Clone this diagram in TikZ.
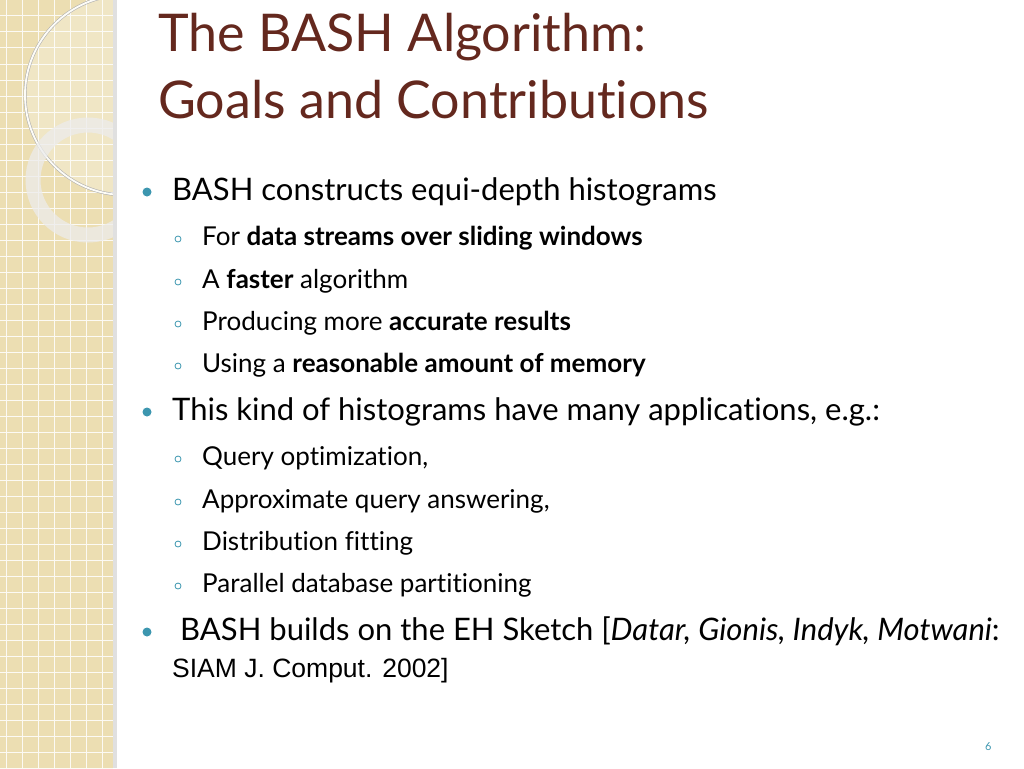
\documentclass[tikz,border=0pt]{standalone}
\usepackage{fontspec}
\setmainfont{Lato}[Ligatures=NoCommon]
\newfontfamily\arialfont{Liberation Sans}
\definecolor{strip}{RGB}{236,222,178}
\definecolor{titlecol}{RGB}{100,40,30}
\definecolor{bulletcol}{RGB}{60,150,175}
\begin{document}
\begin{tikzpicture}[x=1pt,y=-1pt,
  every node/.style={anchor=base west,inner sep=0pt},
  main/.style={font=\fontsize{31}{36}\selectfont},
  sub/.style={font=\fontsize{26}{30}\selectfont}]
\useasboundingbox (0,0) rectangle (1024,768);
% left strip
\fill[strip] (0,0) rectangle (113,768);
\foreach \i in {0,16,...,768} \draw[white!85!strip,line width=1pt] (0,\i) -- (113,\i);
\foreach \i in {6,22,...,110} \draw[white!85!strip,line width=1pt] (\i,0) -- (\i,768);
\begin{scope}
\clip (0,0) rectangle (113,768);
\fill[white,opacity=0.25] (125,95) circle[radius=100];
\draw[black!30,line width=3pt] (125,95) circle[radius=100];
\draw[white!90!strip,line width=1.8pt] (125,95) circle[radius=100];
\draw[white!85!gray,opacity=0.75,line width=15pt] (88,180) circle[radius=55];
\end{scope}
\fill[black!12] (113,0) rectangle (117,768);
% title
\node[text=titlecol,font=\fontsize{52}{56}\selectfont] (t1) at (158,52) {The BASH Algorithm:};
\node[text=titlecol,font=\fontsize{52}{56}\selectfont] (t2) at (158,118) {Goals and Contributions};
% bullets
\foreach \y in {200,420,640} \fill[bulletcol] (147,\y-8) circle[radius=4.5];
\foreach \y in {245,288,330,372,465,508,550,592} \draw[bulletcol,line width=0.8pt] (178,\y-6) circle[radius=3];
\node[main] (b1) at (172,200) {BASH constructs equi-depth histograms};
\node[sub] (s1) at (202,245) {For \textbf{data streams over sliding windows}};
\node[sub] (s2) at (202,288) {A \textbf{faster} algorithm};
\node[sub] (s3) at (202,330) {Producing more \textbf{accurate results}};
\node[sub] (s4) at (202,372) {Using a \textbf{reasonable amount of memory}};
\node[main] (b2) at (172,420) {This kind of histograms have many applications, e.g.:};
\node[sub] (s5) at (202,465) {Query optimization,};
\node[sub] (s6) at (202,508) {Approximate query answering,};
\node[sub] (s7) at (202,550) {Distribution fitting};
\node[sub] (s8) at (202,592) {Parallel database partitioning};
\node[main] (b3) at (180,640) {BASH builds on the EH Sketch [\textit{Datar, Gionis, Indyk, Motwani}:};
\node[font=\arialfont\fontsize{26.5}{30}\selectfont] (b3b) at (172,677) {SIAM J. Comput. 2002]};
\node[text=bulletcol,font=\fontsize{11}{13}\selectfont] (pg) at (985,750) {6};
\end{tikzpicture}
\end{document}
